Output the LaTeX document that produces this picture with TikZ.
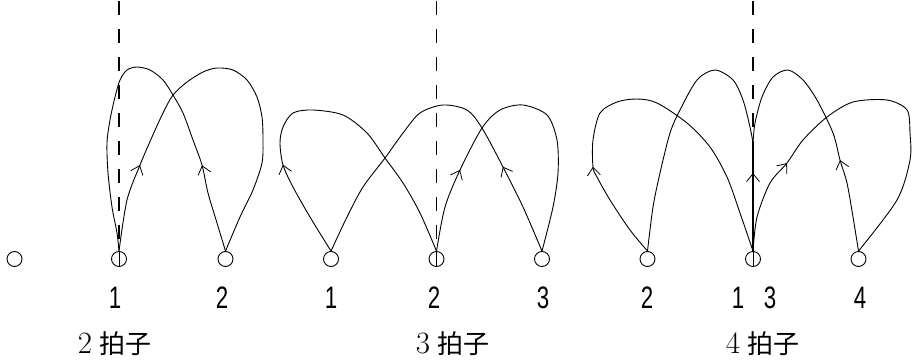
\documentclass[tikz,border=0pt]{standalone}
\usepackage{fontspec}
\newfontfamily\cjk{Noto Sans CJK JP}
\newfontfamily\numfont{Liberation Sans}
\usetikzlibrary{arrows.meta,decorations.markings}
\tikzset{
 curve/.style={line width=0.9pt, line join=round},
 dot/.style={circle,draw,line width=0.9pt,minimum size=15pt,inner sep=0pt},
 dashv/.style={line width=1.4pt, dash pattern=on 14pt off 14pt},
 num/.style={font=\numfont\fontsize{31}{31}\selectfont, xscale=0.72, inner sep=0pt, anchor=base},
 lbl/.style={inner sep=0pt, anchor=base},
 midarrow/.style={postaction={decorate,decoration={markings,mark=at position #1 with {\arrow{Straight Barb[length=8pt,width=13pt,line width=0.8pt]}}}}},
}
\newcommand{\beatlabel}[1]{{\fontsize{31}{31}\selectfont #1}\hspace{7pt}{\cjk\fontsize{26}{26}\selectfont 拍子}}
\begin{document}
\begin{tikzpicture}[x=1pt,y=-1pt]
\useasboundingbox (0,0) rectangle (916,359);
% beat circles
\node[dot] (a0) at (14.5,259) {};
\node[dot] (b1) at (119,259) {};
\node[dot] (b2) at (225.5,259) {};
\node[dot] (c1) at (331,259) {};
\node[dot] (c2) at (436.5,259) {};
\node[dot] (c3) at (542,259) {};
\node[dot] (e2) at (647.5,259) {};
\node[dot] (e13) at (753,259) {};
\node[dot] (e4) at (858.5,259) {};
% dashed verticals
\coordinate (t1) at (119,1);
\coordinate (t2) at (436.5,1);
\coordinate (t3) at (753,1);
\draw[dashv] (t1) -- (b1.north);
\draw[dashv] (t2) -- (c2.north);
\draw[dashv] (t3) -- (e13.north);
\draw[curve] (b1.north) -- (b1.south);
\draw[curve] (c2.north) -- (c2.south);
\draw[curve] (e13.north) -- (e13.south);
% 2 beats
\draw[curve, midarrow=89pt] plot[smooth] coordinates {(b2.north) (217,223) (208,193) (202,165) (193,140) (183,113) (173,95) (163,80) (150,70) (137,67) (127,70) (120,80) (115,97) (110,120) (107,143) (108,173) (112,207) (117,233) (b1.north)};
\draw[curve, midarrow=89pt] plot[smooth] coordinates {(b1.north) (127,200) (140,165) (152,137) (163,113) (173,95) (187,82) (203,72) (217,68) (233,70) (247,80) (257,97) (262,117) (263,140) (262,163) (253,190) (240,217) (b2.north)};
% 3 beats
\draw[curve, midarrow=99pt] plot[smooth] coordinates {(c1.north) (310,217) (293,187) (283,165) (280,143) (283,127) (293,113) (313,110) (343,115) (367,133) (385,158) (403,183) (420,213) (c2.north)};
\draw[curve, midarrow=93pt] plot[smooth] coordinates {(c3.north) (523,207) (503,167) (482,128) (467,110) (443,105) (420,113) (403,133) (385,158) (363,187) (347,217) (c1.north)};
\draw[curve, midarrow=85pt] plot[smooth] coordinates {(c2.north) (445,207) (460,170) (482,128) (500,110) (523,105) (547,115) (557,140) (558,173) (553,207) (c3.north)};
% 4 beats
\coordinate (T) at (753,143);
\draw[curve, line width=1.8pt, midarrow=78pt] (e13.north) -- (T);
\draw[curve] plot[smooth] coordinates {(T) (750,127) (743,100) (733,80) (715,70) (697,80) (680,110) (670,133) (660,173) (653,207) (e2.north)};
\draw[curve, midarrow=101pt] plot[smooth] coordinates {(e2.north) (630,230) (610,200) (597,177) (593,167) (593,140) (600,113) (617,102) (637,99) (657,103) (687,123) (710,147) (727,177) (740,213) (e13.north)};
\draw[curve, midarrow=93pt] plot[smooth] coordinates {(e4.north) (853,217) (847,183) (840,160) (833,133) (817,100) (803,80) (788,70) (773,77) (762,97) (755,123) (T)};
\draw[curve, midarrow=97pt] plot[smooth] coordinates {(e13.north) (757,217) (770,183) (787,163) (803,140) (827,117) (853,102) (887,100) (907,110) (910,133) (910,160) (897,200) (e4.north)};
% numbers
\node[num] (n21) at (115,308) {1};
\node[num] (n22) at (222,308) {2};
\node[num] (n31) at (331,308) {1};
\node[num] (n32) at (434,308) {2};
\node[num] (n33) at (543,308) {3};
\node[num] (n42) at (647,308) {2};
\node[num] (n41) at (738,308) {1};
\node[num] (n43) at (770,308) {3};
\node[num] (n44) at (860,308) {4};
% labels
\node[lbl] (l2) at (114.5,353) {\beatlabel{2}};
\node[lbl] (l3) at (452.5,353) {\beatlabel{3}};
\node[lbl] (l4) at (762.5,353) {\beatlabel{4}};
\end{tikzpicture}
\end{document}
